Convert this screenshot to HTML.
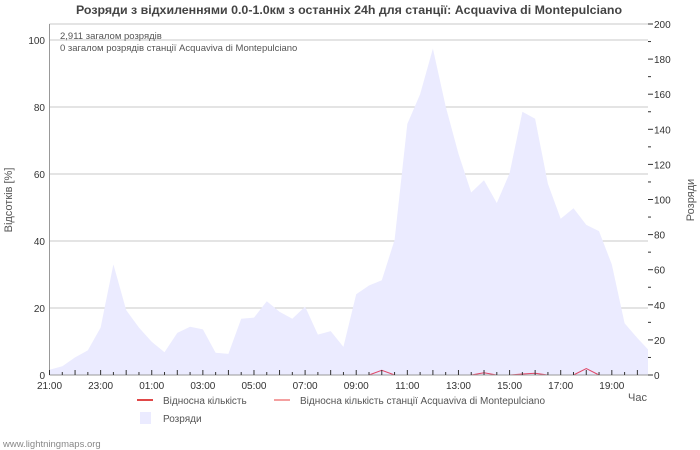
<!DOCTYPE html>
<html><head><meta charset="utf-8"><style>
html,body{margin:0;padding:0;background:#fff}
svg{display:block;font-family:"Liberation Sans","DejaVu Sans",sans-serif}
</style></head><body>
<svg id="chart" width="700" height="450" viewBox="0 0 700 450">
<rect width="700" height="450" fill="#fff"/>
<text x="349" y="14" text-anchor="middle" font-size="12.4" font-weight="bold" fill="#444">Розряди з відхиленнями 0.0-1.0км з останніх 24h для станції: Acquaviva di Montepulciano</text>
<g id="grid"></g>
<g id="area"></g>
<g id="lines"></g>
<g id="axes"></g>
<text x="60" y="39" font-size="9.5" fill="#555">2,911 загалом розрядів</text>
<text x="60" y="51" font-size="9.5" fill="#555">0 загалом розрядів станції Acquaviva di Montepulciano</text>
<text transform="translate(12,200) rotate(-90)" text-anchor="middle" font-size="11" fill="#555">Відсотків   [%]</text>
<text transform="translate(694,200) rotate(-90)" text-anchor="middle" font-size="11" fill="#555">Розряди</text>
<text x="647" y="401" text-anchor="end" font-size="11" fill="#555">Час</text>
<g>
<line x1="137" y1="400" x2="153" y2="400" stroke="#e04848" stroke-width="2"/>
<text x="163" y="404" font-size="10" fill="#555">Відносна кількість</text>
<line x1="274" y1="400" x2="290" y2="400" stroke="#f4a0a0" stroke-width="2"/>
<text x="300" y="404" font-size="10" fill="#555">Відносна кількість станції Acquaviva di Montepulciano</text>
<rect x="140" y="412" width="11" height="12" fill="#ebebff"/>
<text x="163" y="422" font-size="10" fill="#555">Розряди</text>
</g>
<text x="3" y="447" font-size="9.5" fill="#888">www.lightningmaps.org</text>
</svg>
<script>
const strikes=[3,5,10,14,27,63,37,27,19,13,24,27.5,26,12.7,12,32,32.7,42,36,32,39,23,25,16,46,51,54,77,143,160,186,153,126,104,111,98,115,150,146,109,89,95,85.5,82,63,29.5,21,14.6];
const relPct=[null,null,null,null,null,null,null,null,null,null,null,null,null,null,null,null,null,null,null,null,null,null,null,null,null,0,1.4,0,null,null,null,null,null,0,0.7,0,0,0.3,0.5,0,null,0,1.9,0,null,null,null,null];
const xLabels=["21:00","23:00","01:00","03:00","05:00","07:00","09:00","11:00","13:00","15:00","17:00","19:00"];
const leftTicks=[0,20,40,60,80,100];
const rightTicks=[0,20,40,60,80,100,120,140,160,180,200];

const NS="http://www.w3.org/2000/svg";
const X0=49.5,X1=648,YB=375;
const xs=i=>X0+i*12.78;
const yL=v=>YB-v*3.35;
const yR=v=>YB-v*1.755;
function mk(tag,attrs,parent){const e=document.createElementNS(NS,tag);for(const k in attrs)e.setAttribute(k,attrs[k]);parent.appendChild(e);return e;}
const grid=document.getElementById('grid'),area=document.getElementById('area'),lines=document.getElementById('lines'),axes=document.getElementById('axes');

leftTicks.forEach(v=>{
 if(v>0){const g=mk('line',{x1:X0,x2:X1,y1:yL(v),y2:yL(v),stroke:'#c8c8c8','stroke-width':1},grid);
 
 }
 const t=mk('text',{x:45,y:yL(v)+4,'text-anchor':'end','font-size':10,fill:'#333'},axes);t.textContent=v;
 
 
});
mk('line',{x1:X0,x2:X1,y1:24,y2:24,stroke:'#c8c8c8'},grid);

let d='M'+xs(0)+','+YB;
strikes.forEach((v,i)=>{d+=' L'+Math.min(xs(i),X1).toFixed(1)+','+yR(v).toFixed(1);});
d+=' L'+Math.min(xs(strikes.length-1),X1).toFixed(1)+','+YB+' Z';
const ap=mk('path',{d:d,fill:'#ebebff'},area);



let seg='';let pen=false;
relPct.forEach((v,i)=>{if(v===null){pen=false;return;}seg+=(pen?' L':' M')+xs(i).toFixed(1)+','+yL(v).toFixed(1);pen=true;});
const lp=mk('path',{d:seg,fill:'none',stroke:'#e04868','stroke-width':1},lines);



mk('line',{x1:X0,x2:X0,y1:24,y2:YB,stroke:'#999'},axes);
mk('line',{x1:X0,x2:X1,y1:YB,y2:YB,stroke:'#999'},axes);
for(let i=0;i<47;i++){const x=xs(i);mk('line',{x1:x,x2:x,y1:YB-(i%2?3:5),y2:YB,stroke:'#333'},axes);}
xLabels.forEach((s,k)=>{const t=mk('text',{x:xs(k*4),y:389,'text-anchor':'middle','font-size':10,fill:'#333'},axes);t.textContent=s;
 
 });
for(let v=0;v<=200;v+=10){mk('line',{x1:X1,x2:X1+(v%20?3:5),y1:yR(v),y2:yR(v),stroke:'#333'},axes);}
rightTicks.forEach(v=>{const t=mk('text',{x:X1+6,y:yR(v)+4,'font-size':10,fill:'#333'},axes);t.textContent=v;
 
 });
</script>
</body></html>
